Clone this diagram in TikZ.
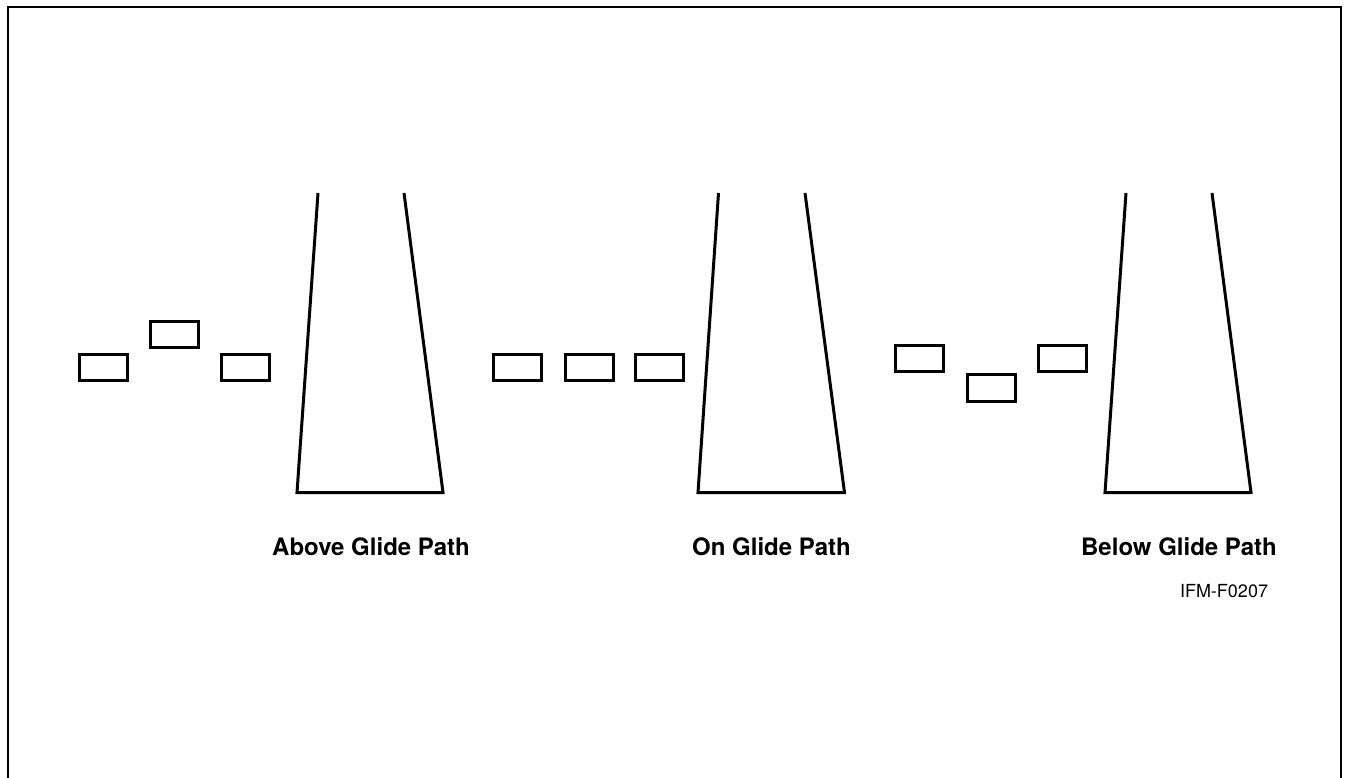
\documentclass[tikz,border=0pt]{standalone}
\usepackage{fontspec}
\setmainfont{TeX Gyre Heros}
\begin{document}
\begin{tikzpicture}[x=1pt,y=-1pt,
  plane/.style={draw,line width=3pt,rectangle,minimum width=48pt,minimum height=26.5pt,inner sep=0pt},
  runway/.style={line width=3pt,line join=miter},
  caption/.style={font=\bfseries\fontsize{24}{27}\selectfont,anchor=base,inner sep=0pt},
  code/.style={font=\fontsize{18}{21}\selectfont,anchor=base,inner sep=0pt}]
\useasboundingbox (0,0) rectangle (1345,777);
% frame
\draw[line width=2pt] (7.5,790) -- (7.5,6.5) -- (1341,6.5) -- (1341,790);
% group 1: above glide path
\node[plane] (a1) at (103.2,367.3) {};
\node[plane] (a2) at (174.5,334.3) {};
\node[plane] (a3) at (245.3,367.3) {};
\draw[runway] (318,193) -- (297,492.5) -- (443,492.5) -- (404,193);
\node[caption] (la) at (371,555.5) {Above Glide Path};
% group 2: on glide path
\node[plane] (b1) at (517.2,367.3) {};
\node[plane] (b2) at (589.2,367.3) {};
\node[plane] (b3) at (659.5,367.3) {};
\draw[runway] (718.5,193) -- (698,492.5) -- (844.5,492.5) -- (805,193);
\node[caption] (lb) at (771.5,555.5) {On Glide Path};
% group 3: below glide path
\node[plane] (c1) at (919.5,358.3) {};
\node[plane] (c2) at (991.5,388) {};
\node[plane] (c3) at (1062,358.3) {};
\draw[runway] (1126,193) -- (1105,492.5) -- (1251,492.5) -- (1212,193);
\node[caption] (lc) at (1179,555.5) {Below Glide Path};
\node[code] (id) at (1224,597) {IFM-F0207};
\end{tikzpicture}
\end{document}
